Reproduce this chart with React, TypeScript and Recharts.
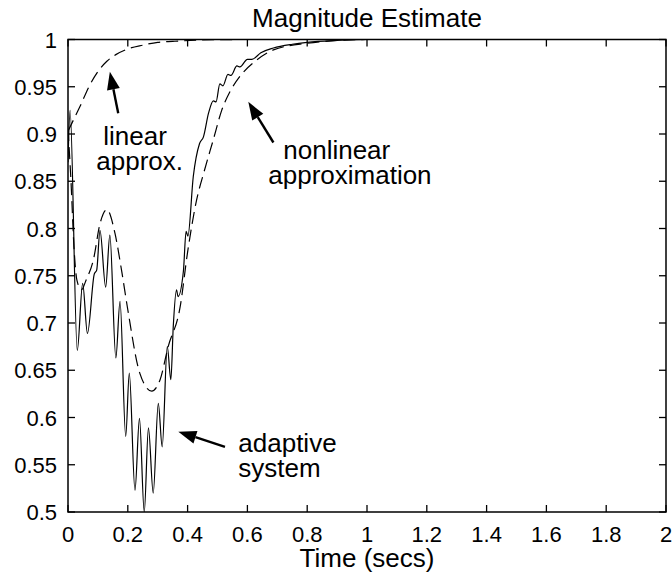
import React from 'react';
import { LineChart, Line, XAxis, YAxis, ReferenceLine, ReferenceDot, ReferenceArea } from 'recharts';

// axis ticks
const xTicks = [0, 0.2, 0.4, 0.6, 0.8, 1, 1.2, 1.4, 1.6, 1.8, 2];
const yTicks = [0.5, 0.55, 0.6, 0.65, 0.7, 0.75, 0.8, 0.85, 0.9, 0.95, 1];

// adaptive system (solid)
const adaptiveT = [0, 0.007, 0.031, 0.049, 0.065, 0.088, 0.096, 0.107, 0.126, 0.14, 0.16, 0.174, 0.193, 0.205, 0.224, 0.239, 0.255, 0.269, 0.285, 0.302, 0.315, 0.332, 0.344, 0.352, 0.363, 0.368, 0.386, 0.395, 0.401, 0.419, 0.44, 0.453, 0.47, 0.486, 0.495, 0.508, 0.518, 0.535, 0.545, 0.565, 0.575, 0.6, 0.615, 0.645, 0.687, 0.75, 0.8, 0.9, 1, 1.5, 2];
const adaptiveV = [0.87, 0.925, 0.671, 0.742, 0.689, 0.752, 0.756, 0.798, 0.738, 0.793, 0.663, 0.723, 0.58, 0.647, 0.523, 0.599, 0.5, 0.589, 0.52, 0.615, 0.569, 0.675, 0.64, 0.696, 0.735, 0.728, 0.755, 0.797, 0.792, 0.855, 0.89, 0.897, 0.922, 0.935, 0.934, 0.953, 0.951, 0.963, 0.962, 0.972, 0.971, 0.979, 0.979, 0.986, 0.991, 0.995, 0.997, 0.999, 1, 1, 1];

// nonlinear approximation (dashed)
const nonlinT = [0, 0.01, 0.02, 0.03, 0.045, 0.06, 0.085, 0.107, 0.13, 0.157, 0.18, 0.2, 0.24, 0.28, 0.308, 0.335, 0.375, 0.4, 0.43, 0.455, 0.486, 0.514, 0.542, 0.575, 0.63, 0.687, 0.8, 0.9, 1, 1.5, 2];
const nonlinV = [0.905, 0.85, 0.78, 0.745, 0.735, 0.745, 0.767, 0.805, 0.82, 0.795, 0.754, 0.714, 0.647, 0.628, 0.64, 0.675, 0.717, 0.775, 0.83, 0.86, 0.894, 0.925, 0.945, 0.961, 0.978, 0.989, 0.996, 0.999, 1, 1, 1];

// linear approximation (dashed)
const linT = [0, 0.02, 0.04, 0.07, 0.1, 0.13, 0.16, 0.2, 0.25, 0.3, 0.35, 0.45, 0.6, 1, 2];
const linV = [0.903, 0.916, 0.929, 0.95, 0.966, 0.977, 0.984, 0.99, 0.994, 0.997, 0.998, 0.9995, 1, 1, 1];

const zip = (ts: number[], vs: number[]) => ts.map((t, i) => ({ t, v: vs[i] }));
const adaptive = zip(adaptiveT, adaptiveV);
const nonlinear = zip(nonlinT, nonlinV);
const linear = zip(linT, linV);

// annotation arrows: tail -> tip, in data units
const arrows = [
  { from: [0.168, 0.922], to: [0.14, 0.966] },
  { from: [0.687, 0.891], to: [0.603, 0.934] },
  { from: [0.525, 0.569], to: [0.369, 0.585] },
];

const notes = [
  { at: [0.118, 0.888], lines: [{ text: 'linear', dx: 0 }, { text: 'approx.', dx: -7 }] },
  { at: [0.72, 0.874], lines: [{ text: 'nonlinear', dx: 0 }, { text: 'approximation', dx: -15 }] },
  { at: [0.5696, 0.5635], lines: [{ text: 'adaptive', dx: 0 }, { text: 'system', dx: 0 }] },
];

const FONT = 'Liberation Sans, Arial, Helvetica, sans-serif';
const fmt = (v: number) => String(Number(v.toFixed(2)));

const BottomTick = (p: any) => (
  <text x={p.x} y={p.y + 30} textAnchor="middle" fontSize={22} fontFamily={FONT} fill="#000">
    {fmt(p.payload.value)}
  </text>
);

const LeftTick = (p: any) => (
  <text x={p.x - 11} y={p.y + 8} textAnchor="end" fontSize={22} fontFamily={FONT} fill="#000">
    {fmt(p.payload.value)}
  </text>
);

// inward tick marks on both ends of a reference line
const XTickMark = (p: any) => {
  const lo = Math.min(p.y1, p.y2);
  const hi = Math.max(p.y1, p.y2);
  return (
    <g>
      <line x1={p.x1} x2={p.x1} y1={hi} y2={hi - 7} stroke="#000" strokeWidth={1.3} />
      <line x1={p.x1} x2={p.x1} y1={lo} y2={lo + 7} stroke="#000" strokeWidth={1.3} />
    </g>
  );
};

const YTickMark = (p: any) => {
  const lo = Math.min(p.x1, p.x2);
  const hi = Math.max(p.x1, p.x2);
  return (
    <g>
      <line x1={lo} x2={lo + 7} y1={p.y1} y2={p.y1} stroke="#000" strokeWidth={1.3} />
      <line x1={hi} x2={hi - 7} y1={p.y1} y2={p.y1} stroke="#000" strokeWidth={1.3} />
    </g>
  );
};

const Arrow = (p: any) => {
  const { x1, y1, x2, y2 } = p;
  const a = Math.atan2(y2 - y1, x2 - x1);
  const len = 18;
  const w = 6.5;
  const bx = x2 - len * Math.cos(a);
  const by = y2 - len * Math.sin(a);
  const px = -Math.sin(a) * w;
  const py = Math.cos(a) * w;
  return (
    <g>
      <line x1={x1} y1={y1} x2={bx} y2={by} stroke="#000" strokeWidth={2.4} />
      <polygon points={`${x2},${y2} ${bx + px},${by + py} ${bx - px},${by - py}`} fill="#000" />
    </g>
  );
};

const makeNote = (lines: { text: string; dx: number }[]) => (p: any) => (
  <g>
    {lines.map((l, i) => (
      <text key={i} x={p.cx + l.dx} y={p.cy + i * 25} fontSize={26} fontFamily={FONT} fill="#000">
        {l.text}
      </text>
    ))}
  </g>
);

export default function App() {
  return (
    <div style={{ position: 'absolute', left: 0, top: 0, width: 672, height: 579, background: '#fff' }}>
      <LineChart width={672} height={579} margin={{ top: 39.5, right: 6, bottom: 0, left: 0 }}>
        <XAxis
          dataKey="t"
          type="number"
          domain={[0, 2]}
          ticks={xTicks}
          height={67}
          tickSize={0}
          tickMargin={0}
          tickLine={false}
          tick={<BottomTick />}
          axisLine={false}
          allowDataOverflow
        />
        <YAxis
          type="number"
          domain={[0.5, 1]}
          ticks={yTicks}
          width={68}
          tickSize={0}
          tickMargin={0}
          tickLine={false}
          tick={<LeftTick />}
          axisLine={false}
          allowDataOverflow
        />
        <Line data={linear} dataKey="v" type="monotone" stroke="#000" strokeWidth={1.2} strokeDasharray="12 6" dot={false} isAnimationActive={false} />
        <Line data={nonlinear} dataKey="v" type="monotone" stroke="#000" strokeWidth={1.2} strokeDasharray="12 6" dot={false} isAnimationActive={false} />
        <Line data={adaptive} dataKey="v" type="monotone" stroke="#000" strokeWidth={1.2} dot={false} isAnimationActive={false} />
        <ReferenceArea x1={0} x2={2} y1={0.5} y2={1} fill="none" fillOpacity={0} stroke="#000" strokeWidth={1.5} ifOverflow="visible" />
        {xTicks.map((t) => (
          <ReferenceLine key={'xt' + t} x={t} shape={XTickMark} ifOverflow="visible" />
        ))}
        {yTicks.map((v) => (
          <ReferenceLine key={'yt' + v} y={v} shape={YTickMark} ifOverflow="visible" />
        ))}
        {arrows.map((a, i) => (
          <ReferenceLine
            key={'a' + i}
            segment={[{ x: a.from[0], y: a.from[1] }, { x: a.to[0], y: a.to[1] }]}
            shape={Arrow}
            ifOverflow="visible"
          />
        ))}
        {notes.map((n, i) => (
          <ReferenceDot key={'n' + i} x={n.at[0]} y={n.at[1]} r={0} shape={makeNote(n.lines)} ifOverflow="visible" />
        ))}
      </LineChart>
      <svg width={672} height={579} style={{ position: 'absolute', left: 0, top: 0, pointerEvents: 'none' }}>
        <text x={367} y={27} textAnchor="middle" fontSize={26} fontFamily={FONT} fill="#000">
          Magnitude Estimate
        </text>
        <text x={367} y={567} textAnchor="middle" fontSize={26} fontFamily={FONT} fill="#000">
          Time (secs)
        </text>
      </svg>
    </div>
  );
}
